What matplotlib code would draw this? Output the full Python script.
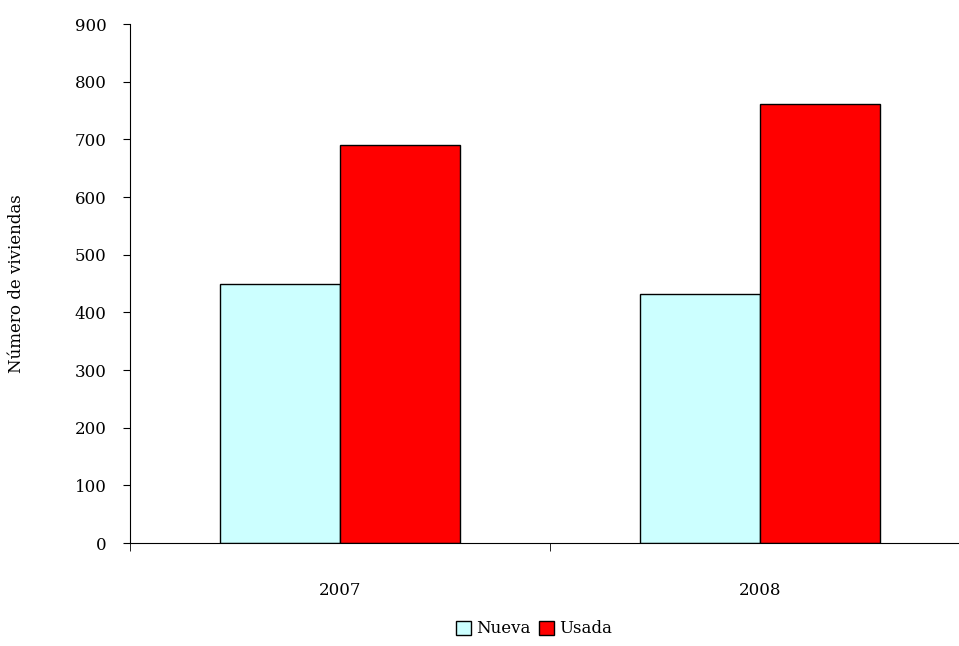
import matplotlib.pyplot as plt
import numpy as np

years = ["2007", "2008"]
nueva = [449, 432]
usada = [691, 762]

plt.rcParams["font.family"] = ["DejaVu Serif"]

fig = plt.figure(figsize=(9.59, 6.46), dpi=100)
ax = fig.add_axes([130 / 959, 1 - 543 / 646, 840 / 959, 519 / 646])

x = np.arange(len(years))
w = 0.286
ax.bar(x - w / 2, nueva, w, color="#ccffff", edgecolor="black", linewidth=1, label="Nueva")
ax.bar(x + w / 2, usada, w, color="#ff0000", edgecolor="black", linewidth=1, label="Usada")

ax.set_xlim(-0.5, 1.5)
ax.set_ylim(0, 900)
ax.set_yticks(range(0, 901, 100))
ax.set_xticks(x)
ax.set_xticklabels(years, fontsize=12)
ax.set_xticks([-0.5, 0.5, 1.5], minor=True)
ax.tick_params(axis="x", which="major", length=0, pad=28)
ax.tick_params(axis="x", which="minor", length=6, direction="out")
ax.tick_params(axis="y", labelsize=12, length=5, direction="out", pad=12)
for s in ["top", "right"]:
    ax.spines[s].set_visible(False)
ax.set_ylabel("Número de viviendas", fontsize=12, labelpad=36)

fig.legend(loc="lower center", bbox_to_anchor=(0.557, -0.01), ncol=2, frameon=False,
           fontsize=12, handlelength=0.9, handleheight=0.9, handletextpad=0.3, columnspacing=0.5)

fig.savefig("out.png", dpi=100)
